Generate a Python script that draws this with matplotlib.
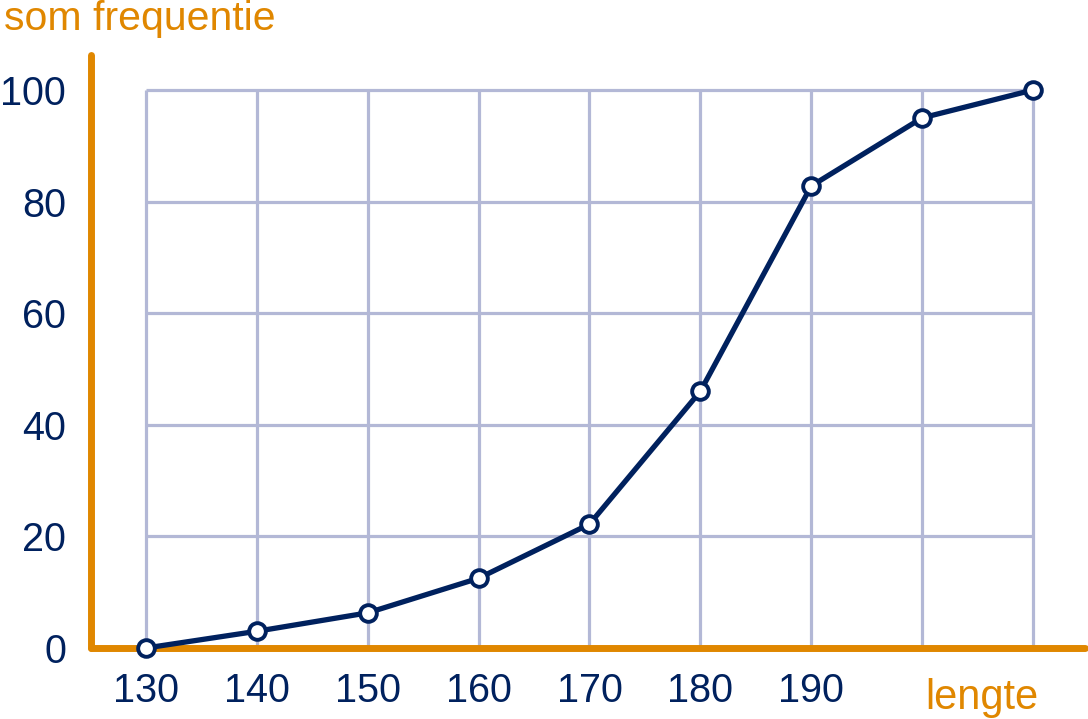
import matplotlib
matplotlib.use("Agg")
import matplotlib.pyplot as plt

plt.rcParams['font.family'] = ['Liberation Sans', 'DejaVu Sans']

lengte = [130, 140, 150, 160, 170, 180, 190, 200, 210]
som_frequentie = [0, 3, 6.3, 12.5, 22.2, 46, 82.8, 95, 100]
x_grid = [130, 140, 150, 160, 170, 180, 190, 200, 210]
y_grid = [0, 20, 40, 60, 80, 100]
x_ticklabels = ['130', '140', '150', '160', '170', '180', '190']
y_ticklabels = ['0', '20', '40', '60', '80', '100']

ORANGE = '#E08700'
NAVY = '#00215E'
GRID = '#B3B8D6'

fig = plt.figure(figsize=(10.88, 7.19), dpi=100)
ax = fig.add_axes([91/1088, 1-648/719, (1085-91)/1088, (648-55)/719])
ax.set_xlim(125.04, 214.69)
ax.set_ylim(0, 106.27)

ax.vlines(x_grid, y_grid[0], y_grid[-1], color=GRID, lw=2.3, zorder=1)
ax.hlines(y_grid, x_grid[0], x_grid[-1], color=GRID, lw=2.3, zorder=1)

ax.plot(lengte, som_frequentie, color=NAVY, lw=3.8, marker='o', ms=12,
        mfc='white', mec=NAVY, mew=2.8, zorder=4, clip_on=False)

for s in ['top', 'right']:
    ax.spines[s].set_visible(False)
for s in ['left', 'bottom']:
    ax.spines[s].set_color(ORANGE)
    ax.spines[s].set_linewidth(5)
    ax.spines[s].set_capstyle('round')
    ax.spines[s].set_zorder(3)

ax.set_xticks(x_grid[:len(x_ticklabels)], x_ticklabels)
ax.set_yticks(y_grid, y_ticklabels)
ax.tick_params(axis='both', length=0, labelsize=28.5, labelcolor=NAVY)
ax.tick_params(axis='x', pad=17)
ax.tick_params(axis='y', pad=18)

ax.text(205.4, -10.9, 'lengte', color=ORANGE, fontsize=30, ha='center',
        va='baseline', clip_on=False)
fig.text(4/1088, 1-30.5/719, 'som frequentie', color=ORANGE, fontsize=29.5,
         ha='left', va='baseline')

fig.savefig('out.png', dpi=100)
